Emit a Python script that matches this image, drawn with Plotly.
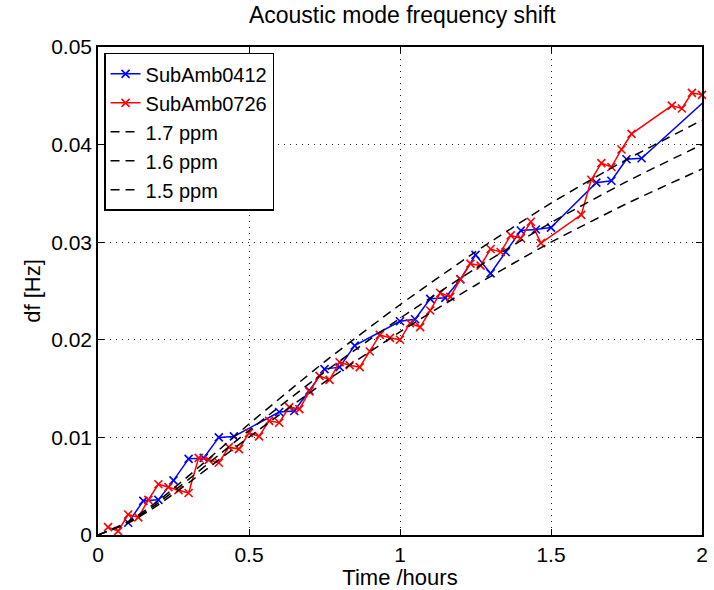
import plotly.graph_objects as go

# ---- data ----
blue_t = [0.10, 0.15, 0.20, 0.25, 0.30, 0.35, 0.40, 0.45,
          0.60, 0.65, 0.70, 0.75, 0.80, 0.85,
          1.00, 1.05, 1.10, 1.15, 1.20, 1.25, 1.30, 1.35, 1.40, 1.45, 1.50,
          1.65, 1.70, 1.75, 1.80, 2.05]
blue_v = [0.00126, 0.0035, 0.0036, 0.0056, 0.0078, 0.0079, 0.0100, 0.0101,
          0.0126, 0.0127, 0.0148, 0.0170, 0.0172, 0.0194,
          0.0219, 0.0221, 0.0242, 0.0243, 0.0262, 0.0287, 0.0268, 0.0290, 0.0312, 0.0313, 0.0315,
          0.0361, 0.0363, 0.0385, 0.0386, 0.0456]

red_t = [0.0333, 0.0667, 0.1, 0.1333, 0.1667, 0.2, 0.2333, 0.2667, 0.3, 0.3333,
         0.3667, 0.4, 0.4333, 0.4667, 0.5, 0.5333, 0.5667, 0.6, 0.6333, 0.6667,
         0.7, 0.7333, 0.7667, 0.8, 0.8333, 0.8667, 0.9, 0.9333, 0.9667, 1.0,
         1.0333, 1.0667, 1.1, 1.1333, 1.1667, 1.2, 1.2333, 1.2667, 1.3, 1.3333,
         1.3667, 1.4, 1.4333, 1.4667,
         1.6, 1.6333, 1.6667, 1.7, 1.7333, 1.7667,
         1.9, 1.9333, 1.9667, 2.0]
red_v = [0.0008, 0.0004, 0.0021, 0.0018, 0.0036, 0.0052, 0.0049, 0.0046, 0.0043, 0.0079,
         0.0077, 0.0074, 0.0090, 0.0088, 0.01045, 0.0101, 0.0117, 0.0115, 0.0131, 0.0129,
         0.0147, 0.0163, 0.0159, 0.0177, 0.0174, 0.0172, 0.0188, 0.0205, 0.0202, 0.0200,
         0.0217, 0.0213, 0.0230, 0.0248, 0.0244, 0.0262, 0.0278, 0.0276, 0.0293, 0.0290,
         0.0307, 0.0304, 0.0321, 0.0299,
         0.0328, 0.0364, 0.0381, 0.0377, 0.0395, 0.0411,
         0.0440, 0.0437, 0.0453, 0.0451]

model_t = [0, 0.1, 0.2, 0.3, 0.4, 0.5, 0.75, 1.0, 1.25, 1.5, 1.75, 2.0]
ppm17_v = [0, 0.00138, 0.00351, 0.00606, 0.00871, 0.01137, 0.01774, 0.02359, 0.02901, 0.0340, 0.03846, 0.0425]
ppm16_v = [0, 0.0013, 0.0033, 0.0057, 0.0082, 0.0107, 0.0167, 0.0222, 0.0273, 0.0320, 0.0362, 0.0400]
ppm15_v = [0, 0.00122, 0.00309, 0.00534, 0.00769, 0.01003, 0.01566, 0.02081, 0.02559, 0.0300, 0.03394, 0.0375]

x_ticks = [0, 0.5, 1, 1.5, 2]
x_tick_text = ["0", "0.5", "1", "1.5", "2"]
y_ticks = [0, 0.01, 0.02, 0.03, 0.04, 0.05]
y_tick_text = ["0", "0.01", "0.02", "0.03", "0.04", "0.05"]

FONT = "Liberation Sans, Arial, sans-serif"

fig = go.Figure()
fig.add_trace(go.Scatter(
    x=blue_t, y=blue_v, name="SubAmb0412", mode="lines+markers",
    line=dict(color="rgb(0,0,255)", width=1.5),
    marker=dict(symbol="x-thin", size=8, color="rgb(0,0,255)",
                line=dict(color="rgb(0,0,255)", width=1.6)),
    cliponaxis=True))
fig.add_trace(go.Scatter(
    x=red_t, y=red_v, name="SubAmb0726", mode="lines+markers",
    line=dict(color="rgb(255,0,0)", width=1.5),
    marker=dict(symbol="x-thin", size=8, color="rgb(255,0,0)",
                line=dict(color="rgb(255,0,0)", width=1.6)),
    cliponaxis=False))
for name, vals in [("1.7 ppm", ppm17_v), ("1.6 ppm", ppm16_v), ("1.5 ppm", ppm15_v)]:
    fig.add_trace(go.Scatter(
        x=model_t, y=vals, name=name, mode="lines",
        line=dict(color="black", width=1.5, dash="9px,6px", shape="spline", smoothing=0.6)))

axis_common = dict(
    showline=True, linecolor="black", linewidth=1.5, mirror="ticks",
    ticks="inside", ticklen=6, tickwidth=1, tickcolor="black",
    showgrid=True, gridcolor="rgba(0,0,0,0.85)", gridwidth=1, griddash="1px,5px",
    zeroline=False, automargin=False,
    tickfont=dict(family=FONT, size=21, color="black"),
)

fig.update_layout(
    width=714, height=590,
    margin=dict(l=98, r=12, t=47, b=55),
    paper_bgcolor="white", plot_bgcolor="white",
    font=dict(family=FONT, color="black"),
    title=dict(text="Acoustic mode frequency shift", x=0.5635, xanchor="center",
               y=0.975, yanchor="middle", font=dict(family=FONT, size=23, color="black")),
    xaxis=dict(range=[0, 2], tickvals=x_ticks, ticktext=x_tick_text,
               title=dict(text="Time /hours", font=dict(family=FONT, size=22), standoff=4),
               **axis_common),
    yaxis=dict(range=[0, 0.05], tickvals=y_ticks, ticktext=y_tick_text,
               title=dict(text="df [Hz]", font=dict(family=FONT, size=22), standoff=4),
               **axis_common),
    legend=dict(x=0.01, y=0.988, xanchor="left", yanchor="top",
                bgcolor="white", bordercolor="black", borderwidth=1.5,
                font=dict(family=FONT, size=20, color="black"),
                tracegroupgap=0),
    showlegend=True,
)

fig.write_html("out.html")
